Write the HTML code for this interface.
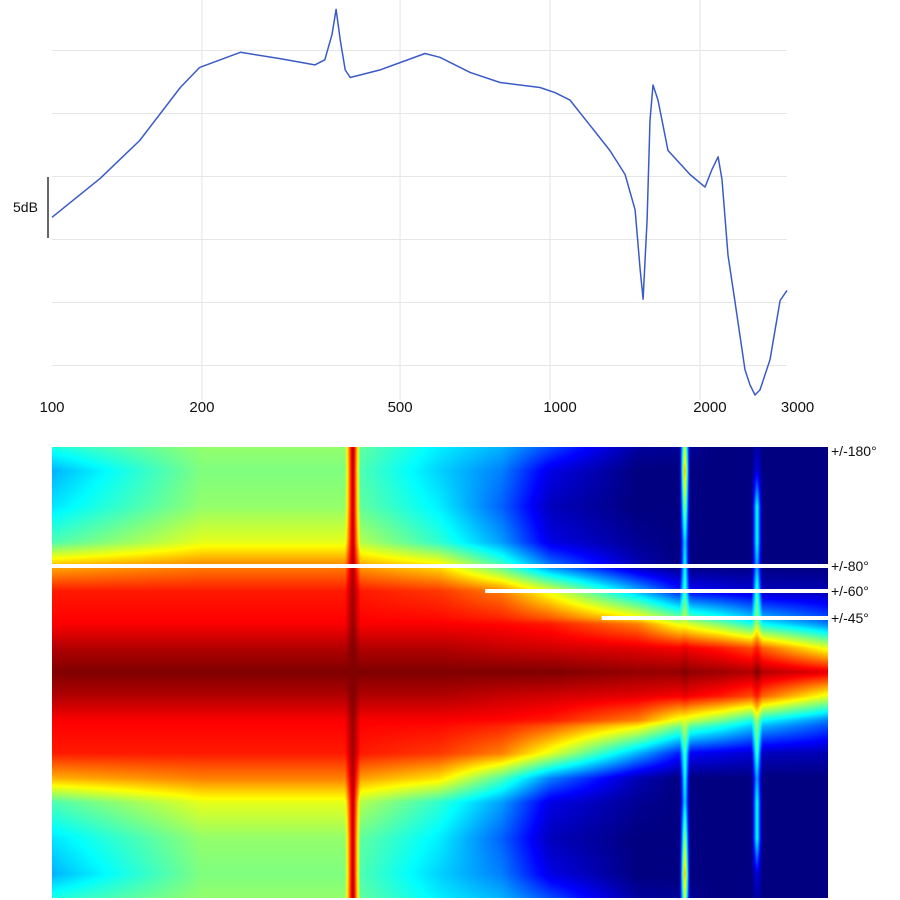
<!DOCTYPE html>
<html><head><meta charset="utf-8">
<style>
html,body{margin:0;padding:0;background:#fff;}
body{width:900px;height:900px;position:relative;overflow:hidden;font-family:"Liberation Sans",sans-serif;}
#respchart{position:absolute;left:0;top:0;}
#heat{position:absolute;left:52px;top:447px;}
</style></head>
<body>
<svg id="respchart" width="900" height="445"></svg>
<canvas id="heat" width="776" height="451"></canvas>
<svg id="over" width="900" height="900" style="position:absolute;left:0;top:0"></svg>
<script>
// ---- frequency response data ----
const respFreqs=[100,125,150,181,198,239,287,337,353,365,372,379,388,397,456,561,601,691,794,955,1023,1097,1203,1319,1415,1482,1517,1538,1567,1588,1610,1648,1726,1910,2048,2115,2175,2215,2277,2350,2464,2521,2580,2640,2766,2897,2992];
const respDb=[-3.2,-0.1,2.9,7.1,8.7,9.9,9.4,8.9,9.3,11.3,13.3,10.9,8.5,7.9,8.5,9.8,9.5,8.3,7.5,7.1,6.7,6.1,4.1,2.1,0.2,-2.6,-7.3,-9.7,-3.4,4.5,7.3,6.1,2.1,0.2,-0.8,0.6,1.6,-0.2,-6.2,-9.8,-15.3,-16.5,-17.3,-16.9,-14.5,-9.8,-9.0];
const xTickLabels=["100","200","500","1000","2000","3000"];
const xTickValues=[100,200,500,1000,2000,3000];
const gridDb=[10,5,0,-5,-10,-15];

const X0=52, DEC=498;
function xs(f){return X0+DEC*Math.log10(f/100);}
function ys(db){return 177-db*12.6;}
const NS="http://www.w3.org/2000/svg";
const topSvg=document.getElementById('respchart');
function mk(tag,attrs,parent){const e=document.createElementNS(NS,tag);for(const k in attrs)e.setAttribute(k,attrs[k]);parent.appendChild(e);return e;}
gridDb.forEach(d=>{
  const l=mk('line',{x1:52,x2:787,y1:ys(d)-0.5,y2:ys(d)-0.5,stroke:'#e6e6e6','stroke-width':1},topSvg);
  
  
});
[200,500,1000,2000].forEach(f=>{
  const l=mk('line',{x1:xs(f),x2:xs(f),y1:0,y2:400,stroke:'#e6e6e6','stroke-width':1},topSvg);
  
  
});
xTickValues.forEach((f,i)=>{
  const t=mk('text',{x:xs(f)+(f>=1000?10:0),y:412,'font-size':15,'text-anchor':'middle',fill:'#111'},topSvg);
  t.textContent=xTickLabels[i];
  
  
});
const sb=mk('line',{x1:48,x2:48,y1:177,y2:238,stroke:'#000','stroke-width':1.2},topSvg);


const st=mk('text',{x:13,y:212,'font-size':14,fill:'#111'},topSvg);
st.textContent='5dB';


const path=respFreqs.map((f,i)=>(i?'L':'M')+xs(f).toFixed(1)+' '+ys(respDb[i]).toFixed(1)).join(' ');
const pl=mk('path',{d:path,fill:'none',stroke:'#3a5bc7','stroke-width':1.5,'stroke-linejoin':'round'},topSvg);



// ---- heatmap data ----
const heatFreqs=[100,200,388,402,416,600,800,1000,1500,1820,1866,1910,2200,2540,2604,2670,3615];
const heatAngles=[0,20,40,60,80,100,130,160,180];
const heatValues=[
 [1.0,0.95,0.88,0.85,0.7,0.45,0.35,0.3,0.4],
 [1.0,0.95,0.88,0.85,0.75,0.6,0.52,0.5,0.52],
 [1.0,0.95,0.88,0.85,0.75,0.6,0.52,0.5,0.52],
 [1.0,1.0,0.98,0.97,0.96,0.95,0.95,0.96,0.97],
 [1.0,0.95,0.88,0.85,0.72,0.55,0.47,0.45,0.47],
 [1.0,0.95,0.88,0.82,0.65,0.42,0.36,0.33,0.36],
 [1.0,0.93,0.87,0.75,0.45,0.28,0.22,0.25,0.3],
 [1.0,0.92,0.85,0.6,0.25,0.1,0.06,0.1,0.2],
 [0.98,0.9,0.75,0.3,0.05,0.02,0.0,0.0,0.03],
 [0.98,0.88,0.6,0.15,0.0,0.0,0.0,0.0,0.02],
 [1.0,0.9,0.6,0.45,0.4,0.35,0.55,0.75,0.6],
 [0.98,0.88,0.58,0.12,0.0,0.0,0.0,0.0,0.02],
 [0.97,0.85,0.5,0.1,0.0,0.0,0.0,0.0,0.0],
 [0.95,0.8,0.4,0.08,0.0,0.0,0.0,0.0,0.0],
 [1.0,0.85,0.55,0.45,0.3,0.4,0.4,0.1,0.05],
 [0.95,0.78,0.38,0.06,0.0,0.0,0.0,0.0,0.0],
 [0.9,0.6,0.25,0.05,0.0,0.0,0.0,0.0,0.0]
];
const angleLabels=["+/-180°","+/-80°","+/-60°","+/-45°"];
const angleLabelValues=[180,80,60,45];
const angleLineStarts=[null,100,741,1270];

const knotY=[447,566,591,618,672];
const knotA=[180,80,60,45,0];
function angToY(a){for(let i=0;i<knotA.length-1;i++){if(a<=knotA[i]&&a>=knotA[i+1]){const t=(knotA[i]-a)/(knotA[i]-knotA[i+1]);return knotY[i]+t*(knotY[i+1]-knotY[i]);}}return 672;}
function yToAng(y){
  if(y>672){y=672-(y-672)*(225/226);}
  for(let i=0;i<knotY.length-1;i++){if(y>=knotY[i]&&y<=knotY[i+1]){const t=(y-knotY[i])/(knotY[i+1]-knotY[i]);return knotA[i]+t*(knotA[i+1]-knotA[i]);}}
  return y<447?180:0;
}
function jet(v){const c=x=>Math.max(0,Math.min(1,x));return [c(1.5-Math.abs(4*v-3)),c(1.5-Math.abs(4*v-2)),c(1.5-Math.abs(4*v-1))];}
const lf=heatFreqs.map(f=>Math.log10(f));
function valAt(f,a){
  const l=Math.log10(f);let i=0;while(i<lf.length-2&&l>lf[i+1])i++;
  let tx=(l-lf[i])/(lf[i+1]-lf[i]);tx=Math.max(0,Math.min(1,tx));
  let j=0;while(j<heatAngles.length-2&&a>heatAngles[j+1])j++;
  const ty=(a-heatAngles[j])/(heatAngles[j+1]-heatAngles[j]);
  const v00=heatValues[i][j],v01=heatValues[i][j+1],v10=heatValues[i+1][j],v11=heatValues[i+1][j+1];
  return (v00*(1-ty)+v01*ty)*(1-tx)+(v10*(1-ty)+v11*ty)*tx;
}
const cv=document.getElementById('heat'),ctx=cv.getContext('2d');
const W=776,H=451,img=ctx.createImageData(W,H);
for(let py=0;py<H;py++){const a=yToAng(447+py+0.5);
  for(let px=0;px<W;px++){const f=100*Math.pow(10,(px+0.5)/DEC);
    const c=jet(valAt(f,a));const k=(py*W+px)*4;
    img.data[k]=c[0]*255;img.data[k+1]=c[1]*255;img.data[k+2]=c[2]*255;img.data[k+3]=255;}}
ctx.putImageData(img,0,0);

const ov=document.getElementById('over');
angleLabelValues.forEach((a,i)=>{
  const y=angToY(a);
  if(angleLineStarts[i]!==null){
    const ln=mk('line',{x1:xs(angleLineStarts[i]),x2:828,y1:y,y2:y,stroke:'#fff','stroke-width':4},ov);
    
    
  }
  const t=mk('text',{x:831,y:(i===0?y+9:y+5),'font-size':14,fill:'#111'},ov);
  t.textContent=angleLabels[i];
  
  
});
</script>
</body></html>
